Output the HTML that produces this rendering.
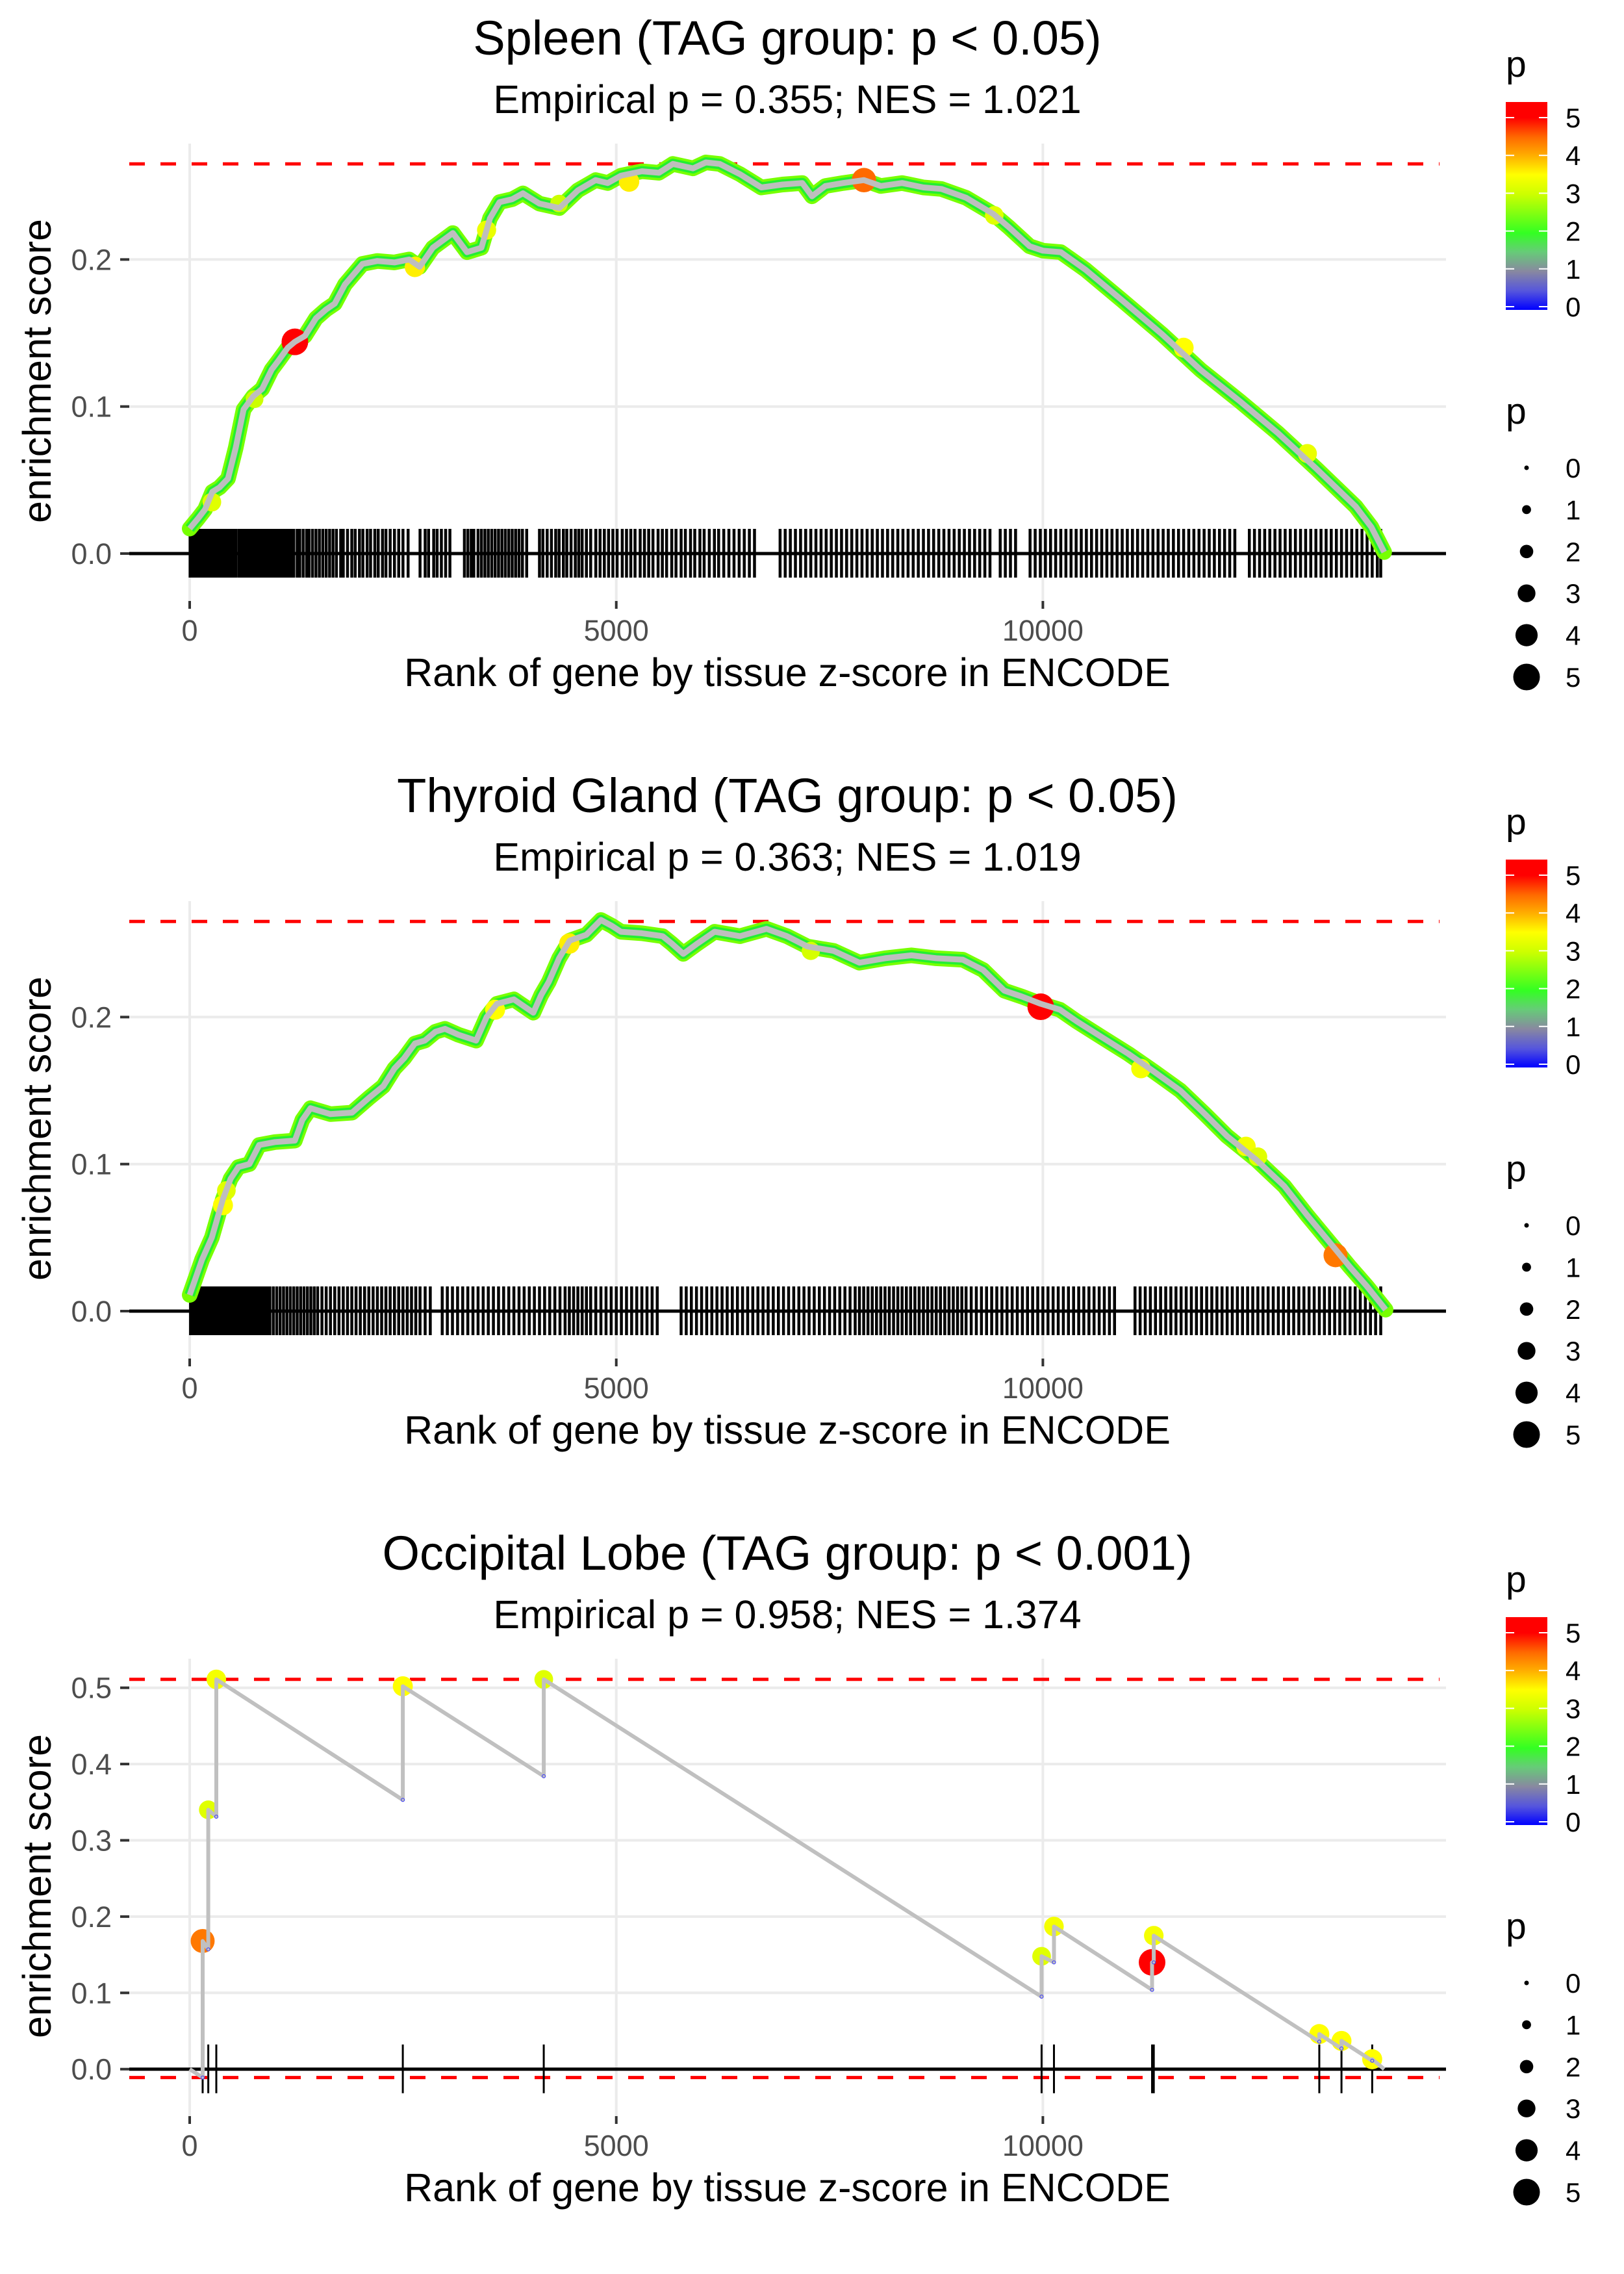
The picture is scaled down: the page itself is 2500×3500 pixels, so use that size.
<!DOCTYPE html>
<html><head><meta charset="utf-8">
<style>
html,body{margin:0;padding:0;background:#fff;}
svg{display:block;font-family:"Liberation Sans",Arial,sans-serif;}
</style></head>
<body>
<svg id="chart" xmlns="http://www.w3.org/2000/svg" width="2500" height="3500" viewBox="0 0 2500 3500">
<defs>
<linearGradient id="pgrad" x1="0" y1="0" x2="0" y2="1">
<stop offset="0" stop-color="#ff0000"/>
<stop offset="0.076" stop-color="#ff0000"/>
<stop offset="0.17" stop-color="#ff6a00"/>
<stop offset="0.26" stop-color="#ffb000"/>
<stop offset="0.35" stop-color="#ffff00"/>
<stop offset="0.445" stop-color="#ccff00"/>
<stop offset="0.63" stop-color="#33ff22"/>
<stop offset="0.72" stop-color="#66cc77"/>
<stop offset="0.815" stop-color="#8888a0"/>
<stop offset="0.91" stop-color="#5555dd"/>
<stop offset="1" stop-color="#0000ff"/>
</linearGradient>
</defs>
</svg>
<script>
// ---------- data ----------
const xTicks = [0, 5000, 10000];
const xTickLabels = ["0", "5000", "10000"];
const yTicks12 = [0.0, 0.1, 0.2];
const yTickLabels12 = ["0.0", "0.1", "0.2"];
const yTicks3 = [0.0, 0.1, 0.2, 0.3, 0.4, 0.5];
const yTickLabels3 = ["0.0", "0.1", "0.2", "0.3", "0.4", "0.5"];
const legendValues = [0, 1, 2, 3, 4, 5];

const titles = ["Spleen (TAG group: p < 0.05)", "Thyroid Gland (TAG group: p < 0.05)", "Occipital Lobe (TAG group: p < 0.001)"];
const subtitles = ["Empirical p = 0.355; NES = 1.021", "Empirical p = 0.363; NES = 1.019", "Empirical p = 0.958; NES = 1.374"];
const maxES = [0.265, 0.265, 0.511];
const minES = [0.0, 0.0, -0.011];

// panel 1 running ES curve
const curve1Rank = [0,100,180,266,350,449,540,632,746,850,960,1051,1150,1233,1350,1480,1599,1700,1820,2025,2200,2400,2573,2695,2850,3084,3250,3419,3520,3632,3780,3906,4100,4332,4550,4758,4900,5055,5300,5500,5664,5900,6050,6212,6450,6700,6950,7180,7294,7450,7659,7903,8100,8350,8600,8809,9100,9418,9600,9845,10000,10210,10500,10934,11400,11847,12300,12753,13200,13667,13850,14000];
const curve1ES = [0.017,0.024,0.03,0.042,0.045,0.051,0.072,0.098,0.107,0.112,0.125,0.132,0.14,0.144,0.148,0.16,0.166,0.17,0.183,0.197,0.199,0.198,0.2,0.195,0.208,0.218,0.205,0.208,0.228,0.239,0.241,0.245,0.238,0.235,0.247,0.254,0.252,0.257,0.26,0.259,0.265,0.262,0.266,0.265,0.258,0.249,0.251,0.252,0.243,0.25,0.252,0.254,0.25,0.252,0.249,0.248,0.242,0.231,0.222,0.209,0.206,0.205,0.193,0.172,0.149,0.125,0.104,0.082,0.058,0.032,0.018,0.001];
const hl1Rank = [260,760,2640,3480,4330,5150,9430,11650,13100,7903,1233];
const hl1ES = [0.035,0.105,0.195,0.220,0.238,0.253,0.230,0.140,0.068,0.254,0.144];
const hl1P = [3.2,3.0,3.6,3.3,3.0,3.6,3.2,3.5,3.3,4.5,5.0];
const hits1 = [5,30,55,70,95,120,150,170,200,230,260,280,310,340,365,390,420,440,470,500,520,545,580,600,630,660,690,720,750,770,800,830,860,890,920,950,980,1010,1040,1070,1100,1130,1160,1190,1220,1260,1290,1330,1370,1400,1440,1480,1520,1560,1600,1640,1680,1720,1770,1800,1850,1900,1940,1990,2030,2080,2120,2170,2210,2260,2300,2350,2400,2450,2500,2560,2700,2760,2800,2860,2900,2950,3000,3050,3220,3260,3300,3330,3380,3420,3460,3500,3540,3580,3620,3660,3700,3740,3780,3820,3860,3900,3950,4100,4140,4190,4240,4290,4330,4380,4420,4470,4520,4560,4600,4650,4700,4760,4810,4860,4910,4960,5010,5070,5120,5170,5220,5280,5330,5380,5430,5490,5540,5590,5650,5700,5760,5810,5870,5920,5980,6030,6090,6150,6200,6260,6320,6380,6440,6500,6560,6620,6920,6980,7040,7100,7160,7220,7280,7340,7400,7460,7520,7580,7640,7700,7760,7820,7880,7940,8000,8060,8120,8180,8240,8300,8360,8420,8480,8540,8600,8660,8720,8780,8840,8900,8960,9020,9080,9140,9200,9260,9320,9380,9500,9560,9620,9680,9850,9910,9970,10030,10090,10150,10210,10270,10330,10390,10450,10510,10570,10630,10690,10750,10810,10870,10930,10990,11050,11110,11170,11230,11290,11350,11410,11470,11530,11590,11650,11710,11770,11830,11890,11950,12010,12070,12130,12190,12250,12420,12480,12540,12600,12660,12720,12780,12840,12900,12960,13020,13080,13140,13200,13260,13320,13380,13440,13500,13560,13620,13680,13740,13800,13860,13920,13960];

// panel 2 running ES curve
const curve2Rank = [0,145,260,388,480,571,700,815,1000,1233,1320,1416,1650,1903,2100,2269,2400,2513,2640,2756,2880,2992,3150,3358,3480,3601,3800,4028,4120,4210,4330,4454,4650,4820,4950,5055,5300,5543,5650,5786,5950,6152,6450,6761,7000,7241,7550,7850,8150,8459,8750,9061,9300,9548,9750,9975,10200,10400,10700,11002,11300,11611,11900,12159,12500,12829,13100,13430,13600,13796,14017];
const curve2ES = [0.011,0.035,0.05,0.076,0.09,0.098,0.1,0.113,0.115,0.116,0.13,0.138,0.134,0.135,0.145,0.153,0.165,0.172,0.182,0.184,0.19,0.192,0.188,0.184,0.2,0.209,0.212,0.203,0.215,0.224,0.24,0.252,0.256,0.266,0.262,0.258,0.257,0.255,0.25,0.243,0.25,0.258,0.255,0.26,0.255,0.248,0.245,0.237,0.24,0.242,0.24,0.239,0.232,0.218,0.214,0.209,0.205,0.197,0.186,0.175,0.163,0.15,0.134,0.119,0.103,0.085,0.065,0.042,0.03,0.017,0.001];
const hl2Rank = [390,430,3580,4450,7280,11150,12380,12520,9975,13430];
const hl2ES = [0.072,0.082,0.205,0.250,0.245,0.165,0.112,0.105,0.207,0.038];
const hl2P = [3.5,3.2,3.5,3.6,3.1,3.4,3.4,3.2,5.0,4.4];
const hits2 = [10,35,60,85,110,135,160,185,210,240,265,290,320,350,375,400,430,460,490,520,550,580,610,640,670,700,730,760,790,820,850,880,910,940,980,1020,1060,1100,1140,1180,1220,1260,1300,1340,1380,1420,1460,1500,1550,1600,1650,1700,1750,1800,1850,1900,1950,2000,2050,2100,2150,2200,2250,2300,2350,2400,2450,2500,2550,2600,2650,2700,2760,2820,2960,3020,3080,3140,3200,3260,3320,3380,3440,3500,3560,3620,3680,3740,3800,3860,3920,3980,4040,4100,4160,4220,4280,4340,4400,4450,4500,4550,4600,4650,4700,4760,4820,4880,4940,5000,5060,5120,5180,5240,5300,5360,5420,5480,5760,5820,5880,5940,6000,6060,6120,6180,6240,6300,6360,6420,6480,6540,6600,6660,6720,6780,6840,6900,6960,7020,7080,7140,7200,7260,7320,7380,7440,7500,7560,7620,7680,7740,7800,7850,7900,7950,8000,8050,8100,8150,8200,8250,8300,8350,8400,8450,8500,8550,8600,8650,8700,8750,8800,8850,8900,8950,9000,9050,9100,9160,9220,9280,9340,9400,9460,9520,9580,9640,9700,9760,9820,9880,9940,10000,10060,10120,10180,10240,10300,10360,10420,10480,10540,10600,10660,10720,10780,10840,11080,11140,11200,11260,11320,11380,11440,11500,11560,11620,11680,11740,11800,11860,11920,11980,12040,12100,12160,12220,12280,12340,12400,12460,12520,12580,12640,12700,12760,12820,12880,12940,13000,13060,13120,13180,13240,13300,13360,13420,13480,13540,13600,13660,13720,13780,13840,13900,13960];

// panel 3 hits: ES just before and after each jump, p value of each hit
const hits3Rank = [152,218,312,2498,4150,9985,10130,11280,11300,13240,13500,13860];
const hits3Before = [-0.011,0.157,0.331,0.353,0.384,0.095,0.140,0.104,0.140,0.036,0.027,0.011];
const hits3After = [0.168,0.340,0.511,0.502,0.511,0.148,0.187,0.140,0.175,0.046,0.037,0.013];
const hits3P = [4.4,3.2,3.4,3.5,3.2,3.2,3.4,5.0,3.4,3.5,3.5,3.5];
const endRank3 = 14000;
const endES3 = 0.0;

// ---------- rendering ----------
const NS = "http://www.w3.org/2000/svg";
const svg = document.getElementById("chart");
function el(tag, parent) { const e = document.createElementNS(NS, tag); parent.appendChild(e); return e; }
function at(e, o) { for (const k in o) e.setAttribute(k, o[k]); return e; }

const X0 = 292, XPER = 0.13134, PL = 199, PR = 2226, OFF = 1166;
const xs = r => X0 + r * XPER;

const stops = [[0,[0,0,255]],[0.5,[85,85,221]],[1,[136,136,160]],[1.5,[102,204,119]],[2,[51,255,34]],[3,[204,255,0]],[3.5,[255,255,0]],[4,[255,176,0]],[4.5,[255,106,0]],[5,[255,0,0]]];
function pColor(p) {
  if (p <= 0) return "rgb(0,0,255)";
  for (let i = 1; i < stops.length; i++) {
    if (p <= stops[i][0]) {
      const a = stops[i-1], b = stops[i], t = (p - a[0]) / (b[0] - a[0]);
      const c = a[1].map((v, j) => Math.round(v + (b[1][j] - v) * t));
      return "rgb(" + c.join(",") + ")";
    }
  }
  return "rgb(255,0,0)";
}
const pRadius = p => 3.5 + 3.4 * p;

function panel(k, yZero, unit, yT, yTL) {
  const dy = k * OFF;
  const ys = v => yZero - v * unit;
  const g = el("g", svg);
  
  
  const top = 221 + dy, bottom = 925 + dy;

  const grid = el("g", g);
  
  
  yT.forEach(v => {
    const l = at(el("line", grid), {x1: PL, x2: PR, y1: ys(v), y2: ys(v), stroke: "#ebebeb", "stroke-width": 4});
    
    
  });
  xTicks.forEach(v => {
    const l = at(el("line", grid), {x1: xs(v), x2: xs(v), y1: top, y2: bottom, stroke: "#ebebeb", "stroke-width": 4});
    
    
  });

  yT.forEach((v, i) => {
    const t = at(el("line", g), {x1: 185, x2: 199, y1: ys(v), y2: ys(v), stroke: "#333", "stroke-width": 4});
    
    
    const tx = at(el("text", g), {x: 172, y: ys(v) + 16, "text-anchor": "end", "font-size": 45, fill: "#4d4d4d"});
    tx.textContent = yTL[i];
    
    
  });
  xTicks.forEach((v, i) => {
    const t = at(el("line", g), {x1: xs(v), x2: xs(v), y1: 925 + dy, y2: 937 + dy, stroke: "#333", "stroke-width": 4});
    
    
    const tx = at(el("text", g), {x: xs(v), y: 986 + dy, "text-anchor": "middle", "font-size": 45, fill: "#4d4d4d"});
    tx.textContent = xTickLabels[i];
    
    
  });

  const tt = at(el("text", g), {x: 1212, y: 84 + dy, "text-anchor": "middle", "font-size": 74, fill: "#000"});
  tt.textContent = titles[k];
  
  
  const st = at(el("text", g), {x: 1212, y: 174 + dy, "text-anchor": "middle", "font-size": 61, fill: "#000"});
  st.textContent = subtitles[k];
  
  
  const xt = at(el("text", g), {x: 1212, y: 1056 + dy, "text-anchor": "middle", "font-size": 61, fill: "#000"});
  xt.textContent = "Rank of gene by tissue z-score in ENCODE";
  
  
  const yt = at(el("text", g), {x: 0, y: 0, "text-anchor": "middle", "font-size": 61, fill: "#000", transform: "translate(78," + (571 + dy) + ") rotate(-90)"});
  yt.textContent = "enrichment score";
  
  

  const dmax = at(el("line", g), {x1: PL, x2: PR - 10, y1: ys(maxES[k]), y2: ys(maxES[k]), stroke: "#ff0000", "stroke-width": 5, "stroke-dasharray": "24 24"});
  
  
  const dmin = at(el("line", g), {x1: PL, x2: PR - 10, y1: ys(minES[k]), y2: ys(minES[k]), stroke: "#ff0000", "stroke-width": 5, "stroke-dasharray": "24 24"});
  
  

  const z = at(el("line", g), {x1: PL, x2: PR, y1: ys(0), y2: ys(0), stroke: "#000", "stroke-width": 5});
  
  

  const lg = el("g", g);
  
  
  const lt = at(el("text", lg), {x: 2318, y: 118 + dy, "font-size": 57, fill: "#000"});
  lt.textContent = "p";
  
  
  const bar = at(el("rect", lg), {x: 2318, y: 157 + dy, width: 64, height: 320, fill: "url(#pgrad)"});
  
  
  legendValues.forEach(v => {
    const yy = 472 + dy - v * 58.2;
    const a = at(el("line", lg), {x1: 2318, x2: 2331, y1: yy, y2: yy, stroke: "#fff", "stroke-width": 2});
    
    
    const b = at(el("line", lg), {x1: 2369, x2: 2382, y1: yy, y2: yy, stroke: "#fff", "stroke-width": 2});
    
    
    const tx = at(el("text", lg), {x: 2410, y: yy + 15, "font-size": 42, fill: "#000"});
    tx.textContent = String(v);
    
    
  });
  const sg = el("g", g);
  
  
  const st2 = at(el("text", sg), {x: 2318, y: 652 + dy, "font-size": 57, fill: "#000"});
  st2.textContent = "p";
  
  
  legendValues.forEach(v => {
    const yy = 720 + dy + v * 64.4;
    const c = at(el("circle", sg), {cx: 2350, cy: yy, r: pRadius(v), fill: "#000"});
    
    
    const tx = at(el("text", sg), {x: 2410, y: yy + 15, "font-size": 42, fill: "#000"});
    tx.textContent = String(v);
    
    
  });
  return {g, ys, dy};
}

function dense(k, cRank, cES, hR, hE, hP, hits) {
  const P = panel(k, 852 + k * OFF, 2263, yTicks12, yTickLabels12);
  const ys = P.ys;
  const tg = el("g", P.g);
  
  
  hits.forEach(r => {
    const l = at(el("line", tg), {x1: xs(r), x2: xs(r), y1: ys(0) - 38, y2: ys(0) + 37, stroke: "#000", "stroke-width": 4.5});
    
    
  });
  const pts = cRank.map((r, i) => xs(r).toFixed(1) + "," + ys(cES[i]).toFixed(1)).join(" ");
  const band = at(el("polyline", P.g), {points: pts, fill: "none", stroke: "#77ff00", "stroke-width": 24, "stroke-linejoin": "round", "stroke-linecap": "round"});
  
  
  const band2 = at(el("polyline", P.g), {points: pts, fill: "none", stroke: "#22ee33", "stroke-width": 16, "stroke-linejoin": "round"});
  
  
  hR.forEach((r, i) => {
    const c = at(el("circle", P.g), {cx: xs(r), cy: ys(hE[i]), r: pRadius(hP[i]), fill: pColor(hP[i])});
    
    
  });
  const line = at(el("polyline", P.g), {points: pts, fill: "none", stroke: "#bebebe", "stroke-width": 9, "stroke-linejoin": "round"});
  
  
}

dense(0, curve1Rank, curve1ES, hl1Rank, hl1ES, hl1P, hits1);
dense(1, curve2Rank, curve2ES, hl2Rank, hl2ES, hl2P, hits2);

(function () {
  const P = panel(2, 3184.7, 1174, yTicks3, yTickLabels3);
  const ys = P.ys;
  const tg = el("g", P.g);
  
  
  hits3Rank.forEach(r => {
    const l = at(el("line", tg), {x1: xs(r), x2: xs(r), y1: ys(0) - 38, y2: ys(0) + 37, stroke: "#000", "stroke-width": 3});
    
    
  });
  let pts = [xs(0).toFixed(1) + "," + ys(0).toFixed(1)];
  hits3Rank.forEach((r, i) => {
    pts.push(xs(r).toFixed(1) + "," + ys(hits3Before[i]).toFixed(1));
    pts.push(xs(r).toFixed(1) + "," + ys(hits3After[i]).toFixed(1));
  });
  pts.push(xs(endRank3).toFixed(1) + "," + ys(endES3).toFixed(1));
  hits3Rank.forEach((r, i) => {
    const c = at(el("circle", P.g), {cx: xs(r), cy: ys(hits3After[i]), r: pRadius(hits3P[i]), fill: pColor(hits3P[i])});
    
    
  });
  const line = at(el("polyline", P.g), {points: pts.join(" "), fill: "none", stroke: "#c0c0c0", "stroke-width": 6, "stroke-linejoin": "round"});
  
  
  hits3Rank.forEach((r, i) => {
    const c = at(el("circle", P.g), {cx: xs(r), cy: ys(hits3Before[i]), r: 2.5, fill: "none", stroke: "#3333ff", "stroke-width": 1});
    
    
  });
})();
</script>
</body></html>
